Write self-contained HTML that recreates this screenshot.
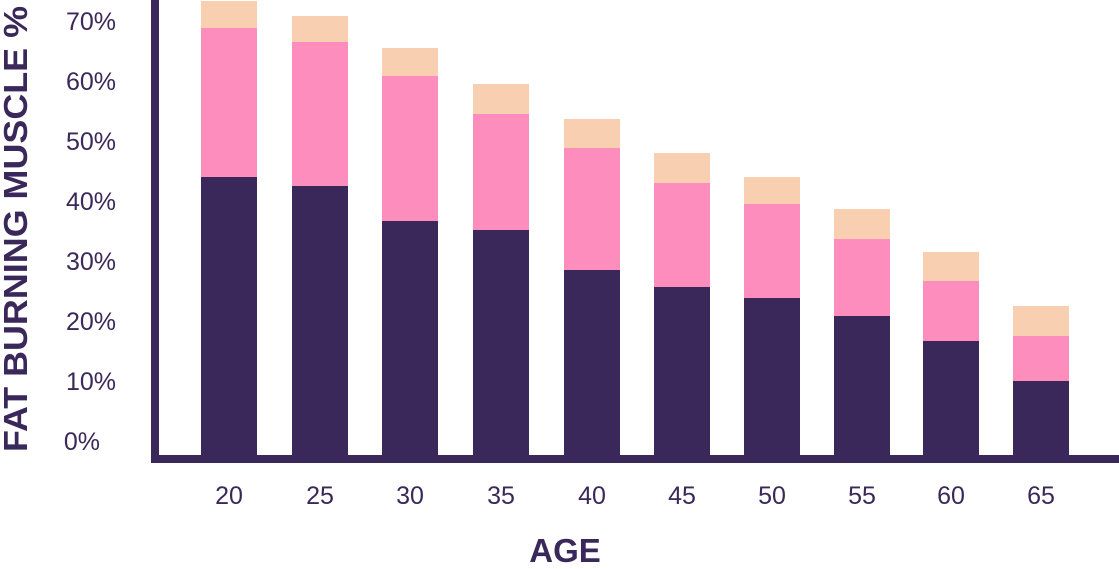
<!DOCTYPE html>
<html><head><style>
body{margin:0;background:#fff;}
svg text{font-family:"Liberation Sans",sans-serif;fill:#3a285a;}
</style></head><body>
<svg width="1119" height="564" xmlns="http://www.w3.org/2000/svg">
<g font-size="25">
<text x="116" y="30" text-anchor="end">70%</text>
<text x="116" y="90" text-anchor="end">60%</text>
<text x="116" y="150" text-anchor="end">50%</text>
<text x="116" y="210" text-anchor="end">40%</text>
<text x="116" y="270" text-anchor="end">30%</text>
<text x="116" y="330" text-anchor="end">20%</text>
<text x="116" y="390" text-anchor="end">10%</text>
<text x="100" y="450" text-anchor="end">0%</text>
</g>
<text transform="translate(27,229) rotate(-90)" text-anchor="middle" font-size="33" font-weight="bold" textLength="446" lengthAdjust="spacingAndGlyphs">FAT BURNING MUSCLE %</text>
<text x="565" y="562" text-anchor="middle" font-size="33" font-weight="bold">AGE</text>
<rect x="151" y="0" width="8" height="463" fill="#3a285a"/>
<rect x="151" y="455" width="968" height="8" fill="#3a285a"/>
<g font-size="25" text-anchor="middle">
<text x="229" y="504">20</text><text x="320" y="504">25</text><text x="410" y="504">30</text><text x="501" y="504">35</text><text x="592" y="504">40</text><text x="682" y="504">45</text><text x="772" y="504">50</text><text x="862" y="504">55</text><text x="951" y="504">60</text><text x="1041" y="504">65</text>
</g>
<g>
<rect x="201" y="1" width="56" height="27" fill="#f9cfb1"/><rect x="201" y="28" width="56" height="149" fill="#fd8dbd"/><rect x="201" y="177" width="56" height="280" fill="#3a285a"/>
<rect x="292" y="16" width="56" height="26" fill="#f9cfb1"/><rect x="292" y="42" width="56" height="144" fill="#fd8dbd"/><rect x="292" y="186" width="56" height="271" fill="#3a285a"/>
<rect x="382" y="48" width="56" height="28" fill="#f9cfb1"/><rect x="382" y="76" width="56" height="145" fill="#fd8dbd"/><rect x="382" y="221" width="56" height="236" fill="#3a285a"/>
<rect x="473" y="84" width="56" height="30" fill="#f9cfb1"/><rect x="473" y="114" width="56" height="116" fill="#fd8dbd"/><rect x="473" y="230" width="56" height="227" fill="#3a285a"/>
<rect x="564" y="119" width="56" height="29" fill="#f9cfb1"/><rect x="564" y="148" width="56" height="122" fill="#fd8dbd"/><rect x="564" y="270" width="56" height="187" fill="#3a285a"/>
<rect x="654" y="153" width="56" height="30" fill="#f9cfb1"/><rect x="654" y="183" width="56" height="104" fill="#fd8dbd"/><rect x="654" y="287" width="56" height="170" fill="#3a285a"/>
<rect x="744" y="177" width="56" height="27" fill="#f9cfb1"/><rect x="744" y="204" width="56" height="94" fill="#fd8dbd"/><rect x="744" y="298" width="56" height="159" fill="#3a285a"/>
<rect x="834" y="209" width="56" height="30" fill="#f9cfb1"/><rect x="834" y="239" width="56" height="77" fill="#fd8dbd"/><rect x="834" y="316" width="56" height="141" fill="#3a285a"/>
<rect x="923" y="252" width="56" height="29" fill="#f9cfb1"/><rect x="923" y="281" width="56" height="60" fill="#fd8dbd"/><rect x="923" y="341" width="56" height="116" fill="#3a285a"/>
<rect x="1013" y="306" width="56" height="30" fill="#f9cfb1"/><rect x="1013" y="336" width="56" height="45" fill="#fd8dbd"/><rect x="1013" y="381" width="56" height="76" fill="#3a285a"/>
</g>
</svg>
</body></html>
